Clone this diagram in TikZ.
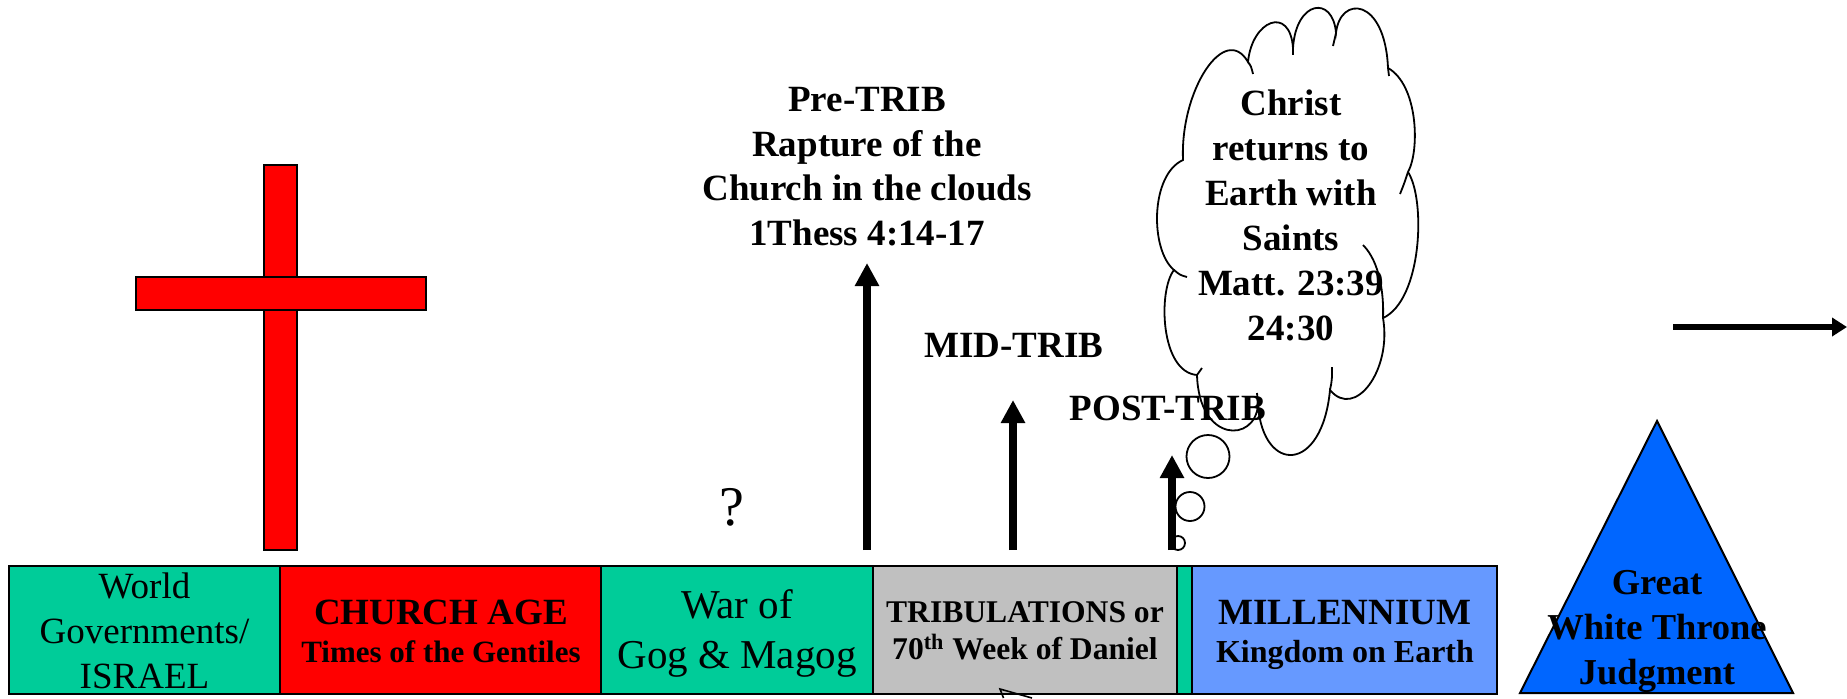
\documentclass[tikz,border=0pt]{standalone}
\usepackage{fontspec}
\setmainfont{Liberation Serif}
\usetikzlibrary{arrows.meta}
\definecolor{cgreen}{HTML}{00CC99}
\definecolor{cred}{HTML}{FF0000}
\definecolor{cgray}{HTML}{C0C0C0}
\definecolor{cmill}{HTML}{6699FF}
\definecolor{ctri}{HTML}{0066FF}
\begin{document}
\begin{tikzpicture}[x=0.5pt,y=-0.5pt,
  cell/.style={draw=black,line width=1.2pt},
  crossbar/.style={fill=cred,draw=black,line width=0.9pt},
  txt/.style={inner sep=0pt,align=center},
  bigb/.style={txt,font=\fontsize{18.5}{22.25}\selectfont\bfseries},
  upar/.style={line width=4pt,-{Triangle[length=11.5pt,width=11.5pt]}},
  rar/.style={line width=3.25pt,-{Triangle[length=7.5pt,width=9pt]}},
  cloudline/.style={line width=0.9pt},
  bubble/.style={draw=black,line width=0.9pt}]
\useasboundingbox (0,0) rectangle (1847,698);
% cross
\path[crossbar] (264,165) rectangle (297,550);
\path[crossbar] (136,277) rectangle (426,310);
% time band
\path[cell,fill=cgreen] (9,566) rectangle (280,694);
\path[cell,fill=cred] (280,566) rectangle (601,694);
\path[cell,fill=cgreen] (601,566) rectangle (873,694);
\path[cell,fill=cgray] (873,566) rectangle (1177,694);
\path[cell,fill=cgreen] (1177,566) rectangle (1192,694);
\path[cell,fill=cmill] (1192,566) rectangle (1497,694);
\node[txt,font=\fontsize{18.5}{22.5}\selectfont] (world) at (144.5,630.5) {World\\Governments/\\ISRAEL};
\node[txt,font=\fontsize{15.5}{19}\selectfont\bfseries] (church) at (441,631.5) {{\fontsize{18.5}{19}\selectfont CHURCH AGE}\\Times of the Gentiles};
\node[txt,font=\fontsize{20.5}{25}\selectfont] (gog) at (737,633.5) {War of\\Gog \& Magog};
\node[txt,font=\fontsize{15.8}{18.5}\selectfont\bfseries] (trib) at (1025,631) {TRIBULATIONS or\\70\textsuperscript{th} Week of Daniel};
\node[txt,font=\fontsize{16}{19}\selectfont\bfseries] (mill) at (1345,635) {{\fontsize{18.5}{19}\selectfont MILLENNIUM}\\Kingdom on Earth};
% Great White Throne
\filldraw[fill=ctri,draw=black,line width=1pt] (1657,421) -- (1793,693) -- (1520,693) -- cycle;
\node[txt,font=\fontsize{18.25}{22.5}\selectfont\bfseries] (gwt) at (1657,631.5) {Great\\White Throne\\Judgment};
% labels
\node[bigb] (pre) at (867,166.5) {Pre-TRIB\\Rapture of the\\Church in the clouds\\1Thess 4:14-17};
\node[bigb,anchor=base] (mid) at (1014,357) {MID-TRIB};
\node[bigb,anchor=base] (post) at (1168,420) {POST-TRIB};
\node[txt,font=\fontsize{28}{30}\selectfont,anchor=base] (q) at (732,525) {?};
% arrows
\coordinate (preS) at (867,550); \coordinate (preE) at (867,263);
\coordinate (midS) at (1013,550); \coordinate (midE) at (1013,400);
\coordinate (postS) at (1172,550); \coordinate (postE) at (1172,455);
\coordinate (rS) at (1673,327); \coordinate (rE) at (1847,327);
% thought bubbles
\draw[bubble] (1208,456.5) circle[radius=10.75pt];
\draw[bubble] (1190,506.5) circle[radius=7.25pt];
\draw[bubble] (1178,543) circle[radius=3.5pt];
\draw[upar] (preS) -- (preE);
\draw[upar] (midS) -- (midE);
\draw[upar] (postS) -- (postE);
\draw[rar] (rS) -- (rE);
% cloud
\draw[cloudline] (1183,160)
  .. controls (1180,90) and (1225,22) .. (1248,62)
  .. controls (1252,20) and (1290,5) .. (1293,48)
  .. controls (1296,0) and (1333,-5) .. (1336,33)
  .. controls (1340,-5) and (1385,-3) .. (1388,68)
  .. controls (1418,85) and (1420,150) .. (1408,172)
  .. controls (1426,200) and (1422,300) .. (1383,318)
  .. controls (1392,370) and (1355,420) .. (1330,390)
  .. controls (1322,474) and (1263,474) .. (1258,405)
  .. controls (1255,443) and (1199,443) .. (1197,375)
  .. controls (1160,372) and (1158,290) .. (1174,270)
  .. controls (1150,250) and (1150,175) .. (1183,160) -- cycle;
\draw[cloudline] (1248,62) .. controls (1251,66) .. (1253,74);
\draw[cloudline] (1293,48) -- (1293,55);
\draw[cloudline] (1336,33) .. controls (1335,40) .. (1333,46);
\draw[cloudline] (1388,68) -- (1389,76);
\draw[cloudline] (1408,172) .. controls (1404,184) .. (1400,194);
\draw[cloudline] (1363,245) .. controls (1380,262) and (1384,295) .. (1383,318);
\draw[cloudline] (1330,390) .. controls (1332,380) .. (1332,367);
\draw[cloudline] (1258,405) -- (1257,393);
\draw[cloudline] (1197,375) -- (1202,368);
\draw[cloudline] (1174,270) .. controls (1180,275) .. (1187,277);
\node[bigb,font=\fontsize{18.5}{22.5}\selectfont\bfseries] (christ) at (1291,215) {Christ\\returns to\\Earth with\\Saints\\Matt. 23:39\\24:30};
% partial block arrow at bottom
\draw[line width=0.8pt] (1032,698) -- (1000,689) -- (1003.5,698);
\end{tikzpicture}
\end{document}
